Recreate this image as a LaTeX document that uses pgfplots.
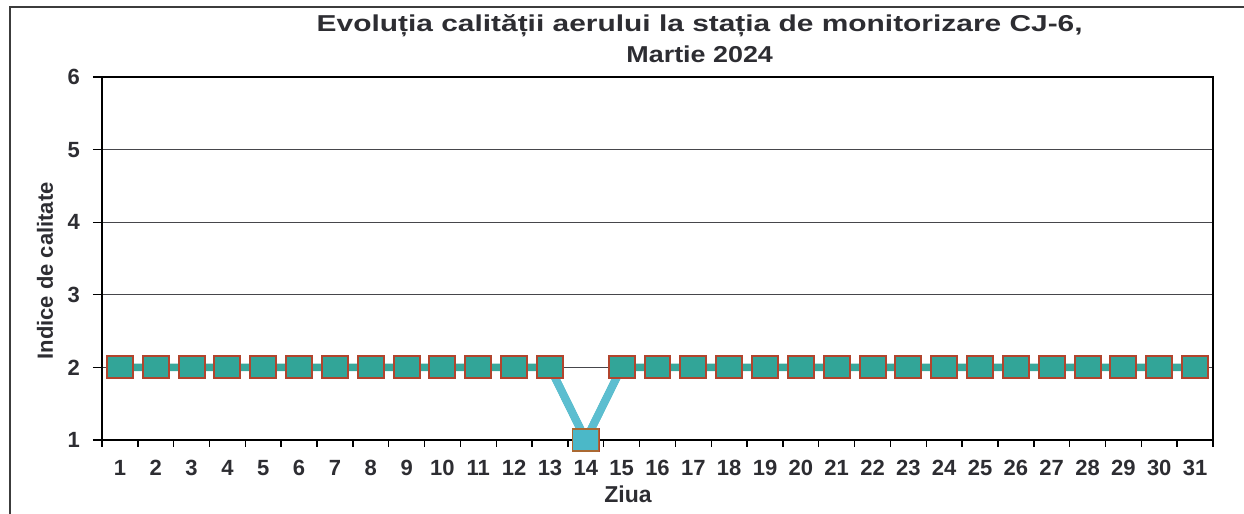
\documentclass[border=0pt]{standalone}
\usepackage{fontspec}
\setmainfont{Liberation Sans}
\usepackage{graphicx}
\usepackage{pgfplots}
\usepackage{pgfplotstable}
\pgfplotsset{compat=1.18}
\definecolor{txt}{RGB}{45,45,50}
\definecolor{tealfill}{RGB}{50,165,152}
\definecolor{tealline}{RGB}{55,168,155}
\definecolor{markedge}{RGB}{178,68,45}
\definecolor{lblue}{RGB}{92,190,208}
\definecolor{lbluefill}{RGB}{75,184,200}
\definecolor{lblueedge}{RGB}{170,105,50}
\definecolor{gridc}{RGB}{70,70,75}
\definecolor{framec}{RGB}{60,60,60}

\pgfplotstableread{
day val
1 2
2 2
3 2
4 2
5 2
6 2
7 2
8 2
9 2
10 2
11 2
12 2
13 2
14 1
15 2
16 2
17 2
18 2
19 2
20 2
21 2
22 2
23 2
24 2
25 2
26 2
27 2
28 2
29 2
30 2
31 2
}\datatable

\begin{document}
\begin{tikzpicture}
\useasboundingbox (0,0) rectangle (622pt,257pt);
\draw[framec, line width=0.8pt] (5pt,-3pt) -- (5pt,253.5pt) -- (630pt,253.5pt);
\begin{axis}[
  at={(51pt,37pt)}, anchor=south west,
  scale only axis, width=555.5pt, height=181.5pt,
  xmin=0.5, xmax=31.5, ymin=1, ymax=6,
  clip=false,
  xtick={1,...,31},
  minor xtick={0.5,1.5,...,31.5},
  every major x tick/.style={draw=none},
  ytick={1,...,6},
  tick pos=left,
  tick align=outside,
  major tick length=4.5pt,
  minor tick length=3.5pt,
  tick style={black, line width=0.7pt},
  ymajorgrids,
  grid style={gridc, line width=0.6pt},
  axis line style={black, line width=0.9pt},
  /pgf/number format/assume math mode=true,
  ticklabel style={font=\bfseries\fontsize{11}{12}\selectfont, text=txt},
  yticklabel style={xshift=-3pt},
  xticklabel style={yshift=-2pt},
  xlabel={Ziua},
  every axis x label/.style={at={(rel axis cs:0.4735,0)}, anchor=center, yshift=-27pt, font=\bfseries\fontsize{11.5}{12}\selectfont, text=txt},
  ylabel={Indice de calitate},
  every axis y label/.style={at={(rel axis cs:0,0.466)}, xshift=-28.5pt, rotate=90, anchor=center, font=\bfseries\fontsize{11}{12}\selectfont, text=txt},
  title={Evoluția calității aerului la stația de monitorizare CJ-6,\\\scalebox{0.9}[1]{Martie 2024}},
  every axis title/.style={at={(rel axis cs:0.538,1.107)}, anchor=center, align=center, font=\bfseries\fontsize{11.5}{15.5}\selectfont, text=txt, xscale=1.3},
]
\addplot[tealline, line width=3.8pt, no marks] table[x=day, y=val] {\datatable};
\addplot[lblue, line width=4pt, no marks] coordinates {(13,2) (14,1) (15,2)};
\addplot[only marks, mark=square*, mark size=5.5pt,
  mark options={xscale=1.18, fill=tealfill, draw=markedge, line width=1pt}]
  table[x=day, y=val] {\datatable};
\addplot[only marks, mark=square*, mark size=5.5pt,
  mark options={xscale=1.18, fill=lbluefill, draw=lblueedge, line width=0.6pt}]
  coordinates {(14,1)};
\end{axis}
\end{tikzpicture}
\end{document}
